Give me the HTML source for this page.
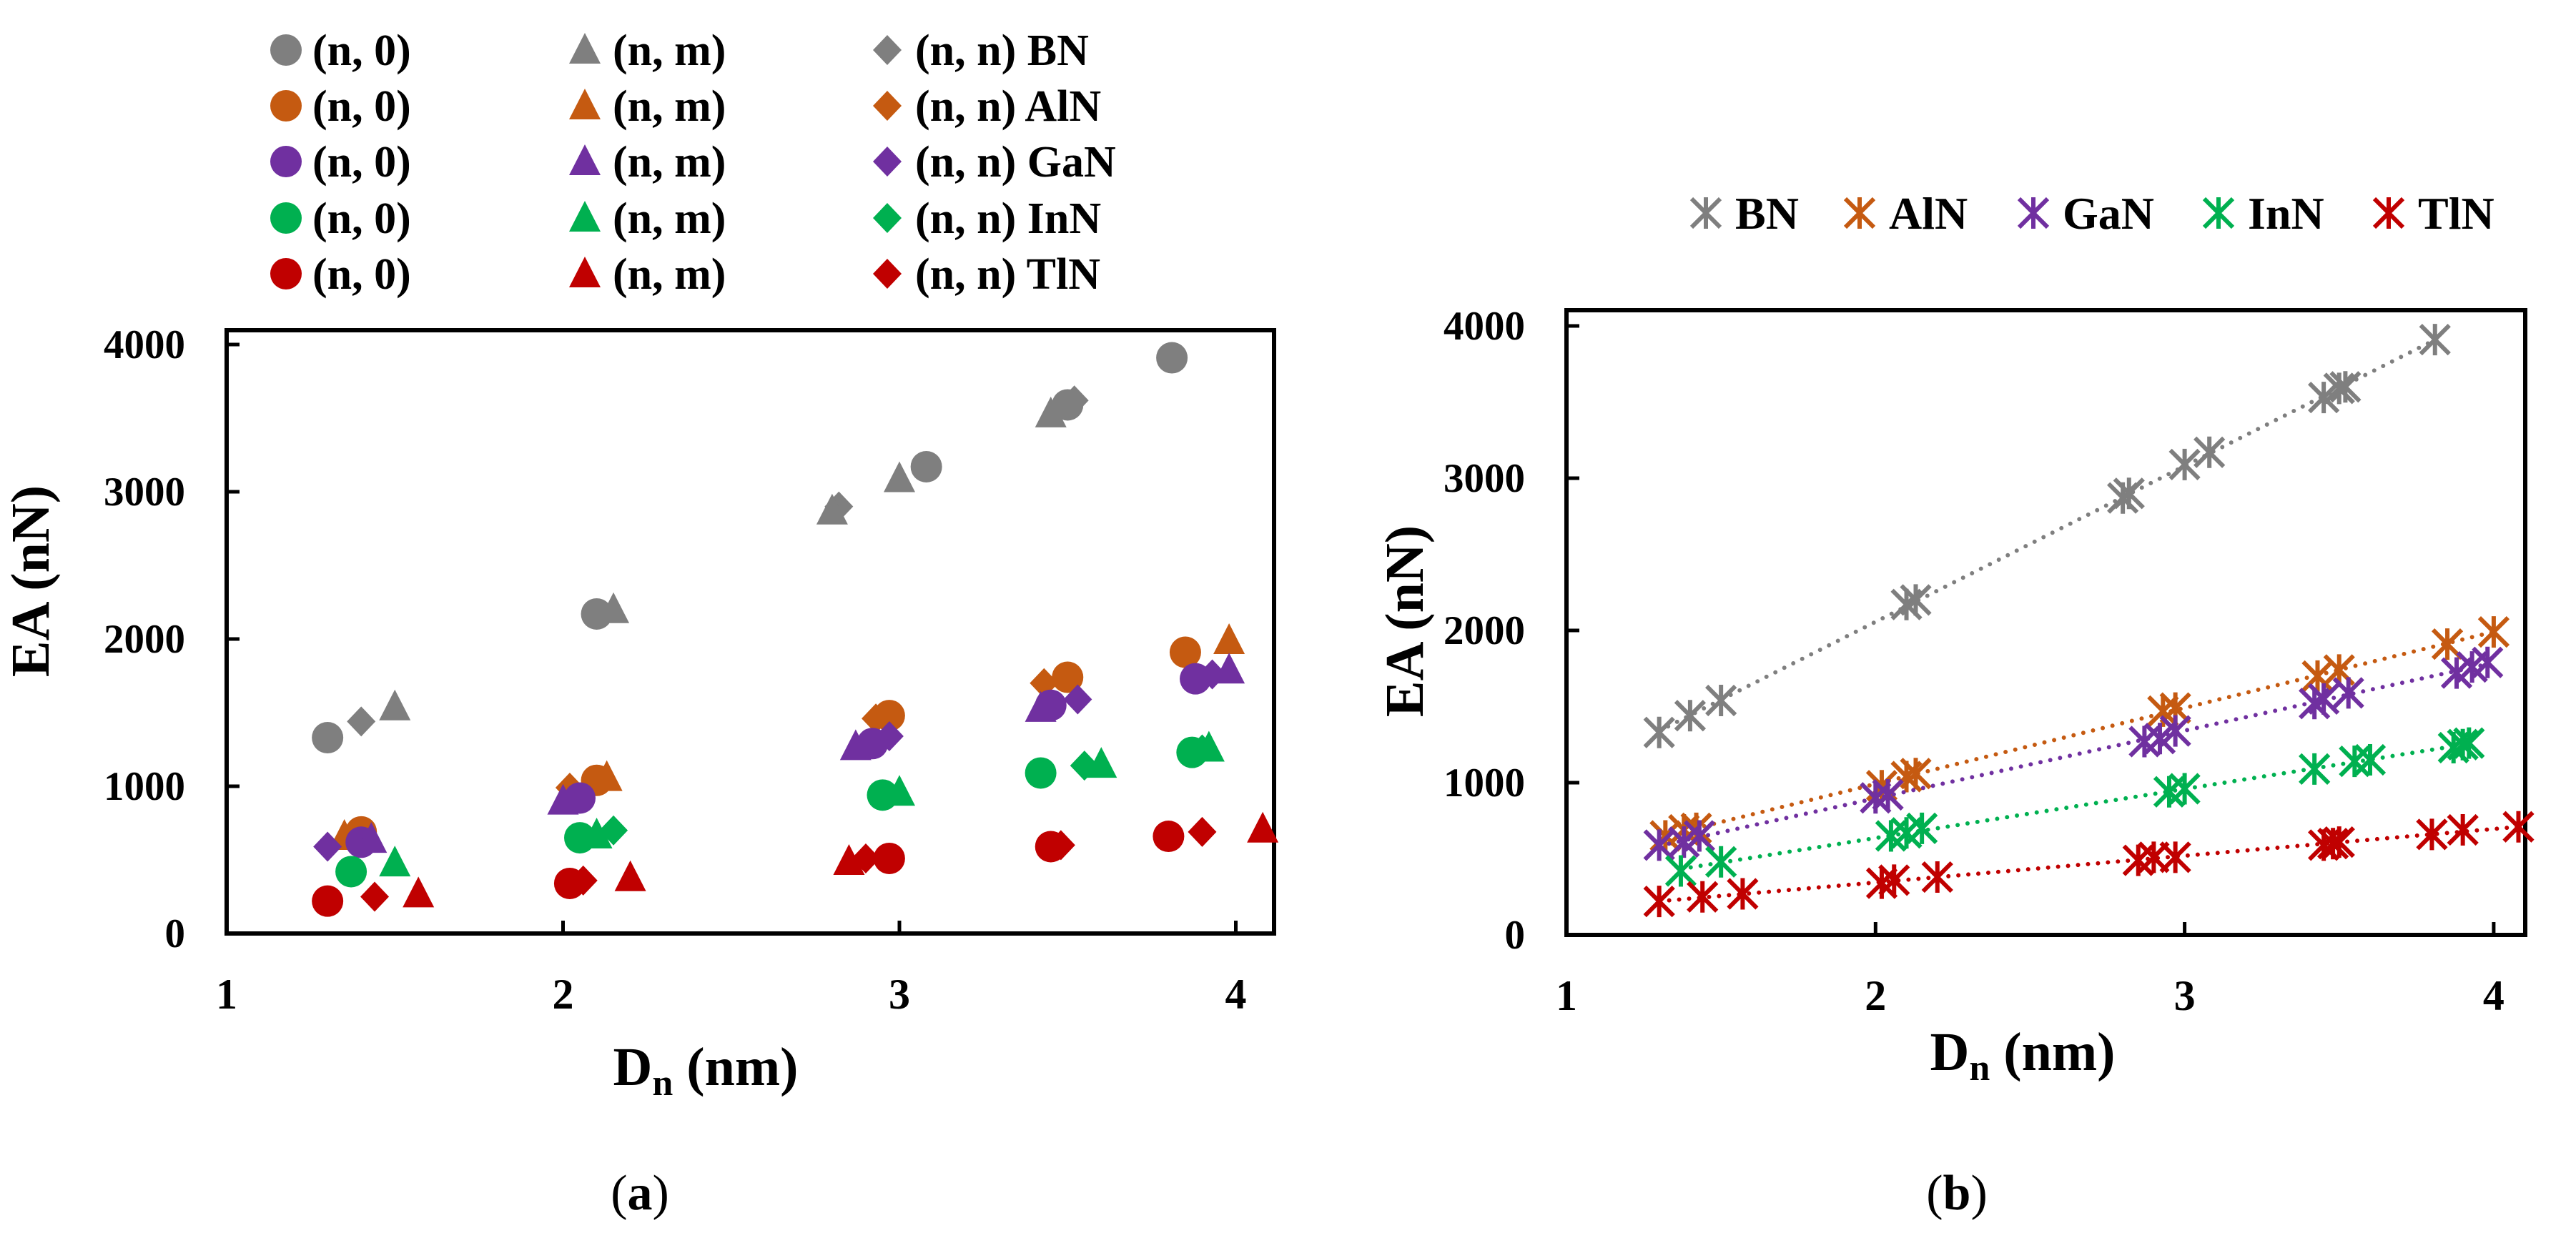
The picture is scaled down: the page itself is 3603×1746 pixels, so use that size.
<!DOCTYPE html>
<html><head><meta charset="utf-8"><style>
html,body{margin:0;padding:0;background:#fff}
svg{display:block}
text{font-family:"Liberation Serif",serif;font-weight:bold;fill:#000}
</style></head><body>
<svg id="fig" width="3603" height="1746" viewBox="0 0 3603 1746" xmlns="http://www.w3.org/2000/svg">
<g id="pa"></g>
<g id="pb"></g>
</svg>
<script>
const materials=["BN","AlN","GaN","InN","TlN"];
const colors=["#7f7f7f","#c55a11","#7030a0","#00b050","#c00000"];
// panel (a): circle (n,0), triangle (n,m), diamond (n,n)
const circX=[[1.3,2.1,3.08,3.5,3.81],[1.4,2.1,2.97,3.5,3.85],[1.4,2.05,2.92,3.45,3.88],[1.37,2.05,2.95,3.42,3.87],[1.3,2.02,2.97,3.45,3.8]];
const circY=[[1330,2170,3170,3590,3910],[690,1040,1480,1740,1910],[620,920,1290,1550,1730],[420,650,940,1090,1230],[220,340,510,590,660]];
const triX=[[1.5,2.15,2.8,3.0,3.45],[1.35,2.13,3.98],[1.43,2.0,2.87,3.42,3.98],[1.5,2.1,3.0,3.6,3.92],[1.57,2.2,2.85,4.08]];
const triY=[[1540,2200,2870,3090,3530],[660,1060,1990],[640,900,1270,1530,1790],[480,670,960,1150,1260],[270,380,490,710]];
const diaX=[[1.4,2.82,3.52],[2.02,2.93,3.43],[1.3,2.97,3.53,3.93],[2.15,3.55,3.9],[1.44,2.06,2.9,3.48,3.9]];
const diaY=[[1440,2900,3620],[990,1460,1700],[590,1340,1590,1760],[700,1140,1250],[250,360,510,600,690]];
// panel (b): all points per material
const bX=[[1.3,1.4,1.5,2.1,2.13,2.8,2.82,3.0,3.08,3.45,3.5,3.52,3.81],
[1.32,1.38,1.42,2.02,2.1,2.13,2.93,2.97,3.43,3.5,3.85,4.0],
[1.3,1.38,1.43,2.0,2.04,2.87,2.92,2.97,3.42,3.45,3.53,3.88,3.93,3.98],
[1.37,1.5,2.05,2.1,2.15,2.95,3.0,3.42,3.55,3.6,3.87,3.9,3.92],
[1.3,1.44,1.57,2.02,2.06,2.2,2.85,2.9,2.97,3.45,3.48,3.5,3.8,3.9,4.08]];
const bY=[[1330,1440,1540,2170,2200,2870,2900,3090,3170,3530,3590,3600,3910],
[650,690,700,980,1040,1060,1470,1490,1700,1740,1910,1990],
[590,610,650,900,920,1270,1290,1340,1520,1550,1590,1720,1760,1790],
[420,480,650,670,700,940,960,1090,1140,1150,1230,1250,1260],
[220,250,270,340,360,380,490,510,510,590,600,610,660,690,710]];
const xTicks=[1,2,3,4];
const yTicks=[0,1000,2000,3000,4000];

const NS="http://www.w3.org/2000/svg";
function mk(parent,tag,attrs,txt){const e=document.createElementNS(NS,tag);for(const k in attrs)e.setAttribute(k,attrs[k]);if(txt!==undefined)e.textContent=txt;parent.appendChild(e);return e;}

function axes(g,L,R,T,B,x1,xu,y0,yu){
  const sx=v=>x1+(v-1)*xu, sy=v=>y0-v*yu;
  for(const t of yTicks){
    const l=mk(g,'line',{x1:L,x2:L+18,y1:sy(t),y2:sy(t),stroke:'#000','stroke-width':5});
    
    
    const tx=mk(g,'text',{x:L-58,y:sy(t)+19,'text-anchor':'end','font-size':57},String(t));
    
    
  }
  for(const t of xTicks){
    const l=mk(g,'line',{x1:sx(t),x2:sx(t),y1:B,y2:B-18,stroke:'#000','stroke-width':5});
    
    
    const tx=mk(g,'text',{x:sx(t),y:B+105,'text-anchor':'middle','font-size':60},String(t));
    
    
  }
  const r=mk(g,'rect',{x:L,y:T,width:R-L,height:B-T,fill:'none',stroke:'#000','stroke-width':6});
  
  
  return [sx,sy];
}
function circle(g,x,y,c){const e=mk(g,'circle',{cx:x,cy:y,r:22,fill:c});}
function tri(g,x,y,c){const e=mk(g,'polygon',{points:`${x},${y-24} ${x+22},${y+19} ${x-22},${y+19}`,fill:c});}
function dia(g,x,y,c){const e=mk(g,'polygon',{points:`${x},${y-21} ${x+20},${y} ${x},${y+21} ${x-20},${y}`,fill:c});}
function star(g,x,y,c){const s=mk(g,'path',{d:`M${x-20},${y-20}L${x+20},${y+20}M${x+20},${y-20}L${x-20},${y+20}M${x},${y-22}L${x},${y+22}`,stroke:c,'stroke-width':6,fill:'none'});}

// Panel A
const pa=document.getElementById('pa');
const [ax,ay]=axes(pa,317,1782,462,1306,317,470.5,1306,0.206);
[["(n, 0)",437,circle],["(n, m)",857,tri],["(n, n) ",1280,dia]].forEach((col,ci)=>{
  materials.forEach((m,i)=>{
    const y=[70,148,226,305,383][i];
    col[2](pa,[400,818,1241][ci],y,colors[i]);
    const t=mk(pa,'text',{x:col[1],y:y+21,'font-size':62},col[0]+(ci==2?m:''));
    
    
  });
});
materials.forEach((m,i)=>{
  circX[i].forEach((v,j)=>circle(pa,ax(v),ay(circY[i][j]),colors[i]));
  diaX[i].forEach((v,j)=>dia(pa,ax(v),ay(diaY[i][j]),colors[i]));
  triX[i].forEach((v,j)=>tri(pa,ax(v),ay(triY[i][j]),colors[i]));
});
let t;
t=mk(pa,'text',{x:0,y:0,'font-size':76,transform:'translate(68,813) rotate(-90)','text-anchor':'middle'},'EA (nN)');

t=mk(pa,'text',{x:987,y:1518,'font-size':76,'text-anchor':'middle'});
t.innerHTML='D<tspan font-size="52" dy="14">n</tspan><tspan dy="-14"> (nm)</tspan>';

t=mk(pa,'text',{x:895,y:1692,'font-size':70,'text-anchor':'middle'});
t.innerHTML='<tspan font-weight="normal">(</tspan>a<tspan font-weight="normal">)</tspan>';


// Panel B
const pb=document.getElementById('pb');
const [bx,by]=axes(pb,2191,3532,434,1308,2191,432.3,1308,0.213);
materials.forEach((m,i)=>{
  const xs=bX[i],ys=bY[i],n=xs.length;
  const mx=xs.reduce((a,b)=>a+b)/n,my=ys.reduce((a,b)=>a+b)/n;
  let sxy=0,sxx=0;xs.forEach((v,j)=>{sxy+=(v-mx)*(ys[j]-my);sxx+=(v-mx)*(v-mx);});
  const k=sxy/sxx,b0=my-k*mx,xa=Math.min(...xs),xb=Math.max(...xs);
  const l=mk(pb,'line',{x1:bx(xa),y1:by(b0+k*xa),x2:bx(xb),y2:by(b0+k*xb),stroke:colors[i],'stroke-width':6,'stroke-dasharray':'0 14','stroke-linecap':'round'});
  
  
  xs.forEach((v,j)=>star(pb,bx(v),by(ys[j]),colors[i]));
  const lx=[2386,2601,2844,3103,3341][i];
  star(pb,lx,298,colors[i]);
  const lt=mk(pb,'text',{x:lx+41,y:320,'font-size':64},m);
  
  
});
t=mk(pb,'text',{x:0,y:0,'font-size':76,transform:'translate(1990,869) rotate(-90)','text-anchor':'middle'},'EA (nN)');

t=mk(pb,'text',{x:2829,y:1497,'font-size':76,'text-anchor':'middle'});
t.innerHTML='D<tspan font-size="52" dy="14">n</tspan><tspan dy="-14"> (nm)</tspan>';

t=mk(pb,'text',{x:2737,y:1692,'font-size':70,'text-anchor':'middle'});
t.innerHTML='<tspan font-weight="normal">(</tspan>b<tspan font-weight="normal">)</tspan>';

</script>
</body></html>
